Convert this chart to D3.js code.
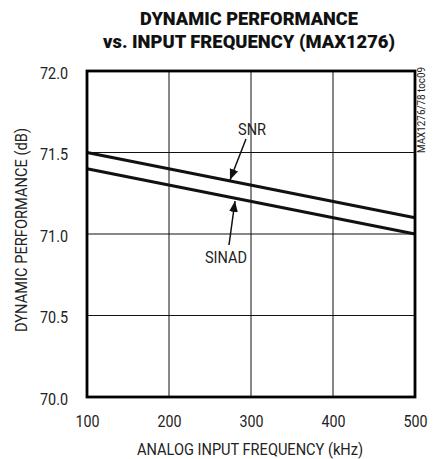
<!DOCTYPE html>
<html><head><meta charset="utf-8">
<script src="https://cdn.jsdelivr.net/npm/d3@7"></script>
<style>
body{margin:0;background:#fff}
text{font-family:"Roboto","Liberation Sans",sans-serif;fill:#222}
</style></head><body>
<svg id="c" width="443" height="459"></svg>
<script>
const freqs = [100, 500];
const snr = [71.5, 71.1];
const sinad = [71.4, 71.0];
const xTicks = [100, 200, 300, 400, 500];
const yTicks = [70.0, 70.5, 71.0, 71.5, 72.0];
const titleLines = ["DYNAMIC PERFORMANCE", "vs. INPUT FREQUENCY (MAX1276)"];

const svg = d3.select("#c");
const L = 87, R = 415, T = 71, B = 397;
const x = d3.scaleLinear().domain([100, 500]).range([L, R]);
const y = d3.scaleLinear().domain([70, 72]).range([B, T]);

// title
svg.selectAll("text.title").data(titleLines).enter().append("text")
  .attr("class","title")
  .attr("x", 249).attr("y", (d,i)=> 25 + i*23)
  .attr("text-anchor","middle")
  .attr("font-size", 18).attr("font-weight","900")
  .attr("textLength", (d,i)=> i===0 ? 218 : 292)
  .attr("lengthAdjust","spacingAndGlyphs")
  .style("fill","#111")
  .text(d=>d);

// grid
const g = svg.append("g");
g.selectAll("line.vx").data(xTicks.slice(1,-1)).enter().append("line")
  .attr("x1", d=>x(d)).attr("x2", d=>x(d)).attr("y1", T).attr("y2", B)
  .attr("stroke","#111").attr("stroke-width",1);
g.selectAll("line.hy").data(yTicks.slice(1,-1)).enter().append("line")
  .attr("y1", d=>y(d)).attr("y2", d=>y(d)).attr("x1", L).attr("x2", R)
  .attr("stroke","#111").attr("stroke-width",1);

// data lines
const line = d3.line().x(d=>x(d[0])).y(d=>y(d[1]));
[snr, sinad].forEach(s=>{
  svg.append("path").datum(freqs.map((f,i)=>[f, s[i]]))
    .attr("d", line).attr("fill","none").attr("stroke","#111").attr("stroke-width",3.2);
});

// frame
svg.append("rect").attr("x",L).attr("y",T).attr("width",R-L).attr("height",B-T)
  .attr("fill","none").attr("stroke","#000").attr("stroke-width",2.8);

// axes labels via d3 axes (no lines)
const xAxis = svg.append("g").attr("transform",`translate(0,${B})`)
  .call(d3.axisBottom(x).tickValues(xTicks).tickFormat(d3.format("d")).tickSize(0).tickPadding(19));
xAxis.select(".domain").remove();
xAxis.selectAll("text").attr("font-size",16).style("font-family",null).attr("fill","#222")
  .attr("textLength",24).attr("lengthAdjust","spacingAndGlyphs");

const yAxis = svg.append("g").attr("transform",`translate(${L},0)`)
  .call(d3.axisLeft(y).tickValues(yTicks).tickFormat(d3.format(".1f")).tickSize(0).tickPadding(19));
yAxis.select(".domain").remove();
yAxis.selectAll("text").attr("font-size",16).style("font-family",null).attr("fill","#222")
  .attr("dy","0.45em").attr("textLength",28).attr("lengthAdjust","spacingAndGlyphs");

// axis titles
svg.append("text").attr("x", 250).attr("y", 455).attr("text-anchor","middle")
  .attr("font-size",16).attr("textLength",226).attr("lengthAdjust","spacingAndGlyphs")
  .text("ANALOG INPUT FREQUENCY (kHz)");
svg.append("text").attr("transform",`translate(27,230) rotate(-90)`)
  .attr("text-anchor","middle").attr("font-size",16).attr("textLength",204).attr("lengthAdjust","spacingAndGlyphs")
  .text("DYNAMIC PERFORMANCE (dB)");

// side note
svg.append("text").attr("transform",`translate(425,153) rotate(-90)`)
  .attr("font-size",10).attr("text-anchor","start").attr("textLength",86).attr("lengthAdjust","spacingAndGlyphs")
  .text("MAX1276/78 toc09");

// annotations
const defs = svg.append("defs");
defs.append("marker").attr("id","ah").attr("viewBox","0 0 10 10").attr("refX",10).attr("refY",5)
  .attr("markerWidth",11).attr("markerHeight",11).attr("markerUnits","userSpaceOnUse").attr("orient","auto")
  .append("path").attr("d","M0,1 L10,5 L0,9 Z").attr("fill","#111");

svg.append("text").attr("x",252).attr("y",135).attr("text-anchor","middle").attr("font-size",16)
  .attr("textLength",28).attr("lengthAdjust","spacingAndGlyphs").text("SNR");
svg.append("line").attr("x1",246).attr("y1",139).attr("x2",230).attr("y2",180)
  .attr("stroke","#111").attr("stroke-width",1.5).attr("marker-end","url(#ah)");
svg.append("text").attr("x",226).attr("y",263).attr("text-anchor","middle").attr("font-size",16)
  .attr("textLength",42).attr("lengthAdjust","spacingAndGlyphs").text("SINAD");
svg.append("line").attr("x1",229).attr("y1",245).attr("x2",235).attr("y2",201)
  .attr("stroke","#111").attr("stroke-width",1.5).attr("marker-end","url(#ah)");
</script></body></html>
